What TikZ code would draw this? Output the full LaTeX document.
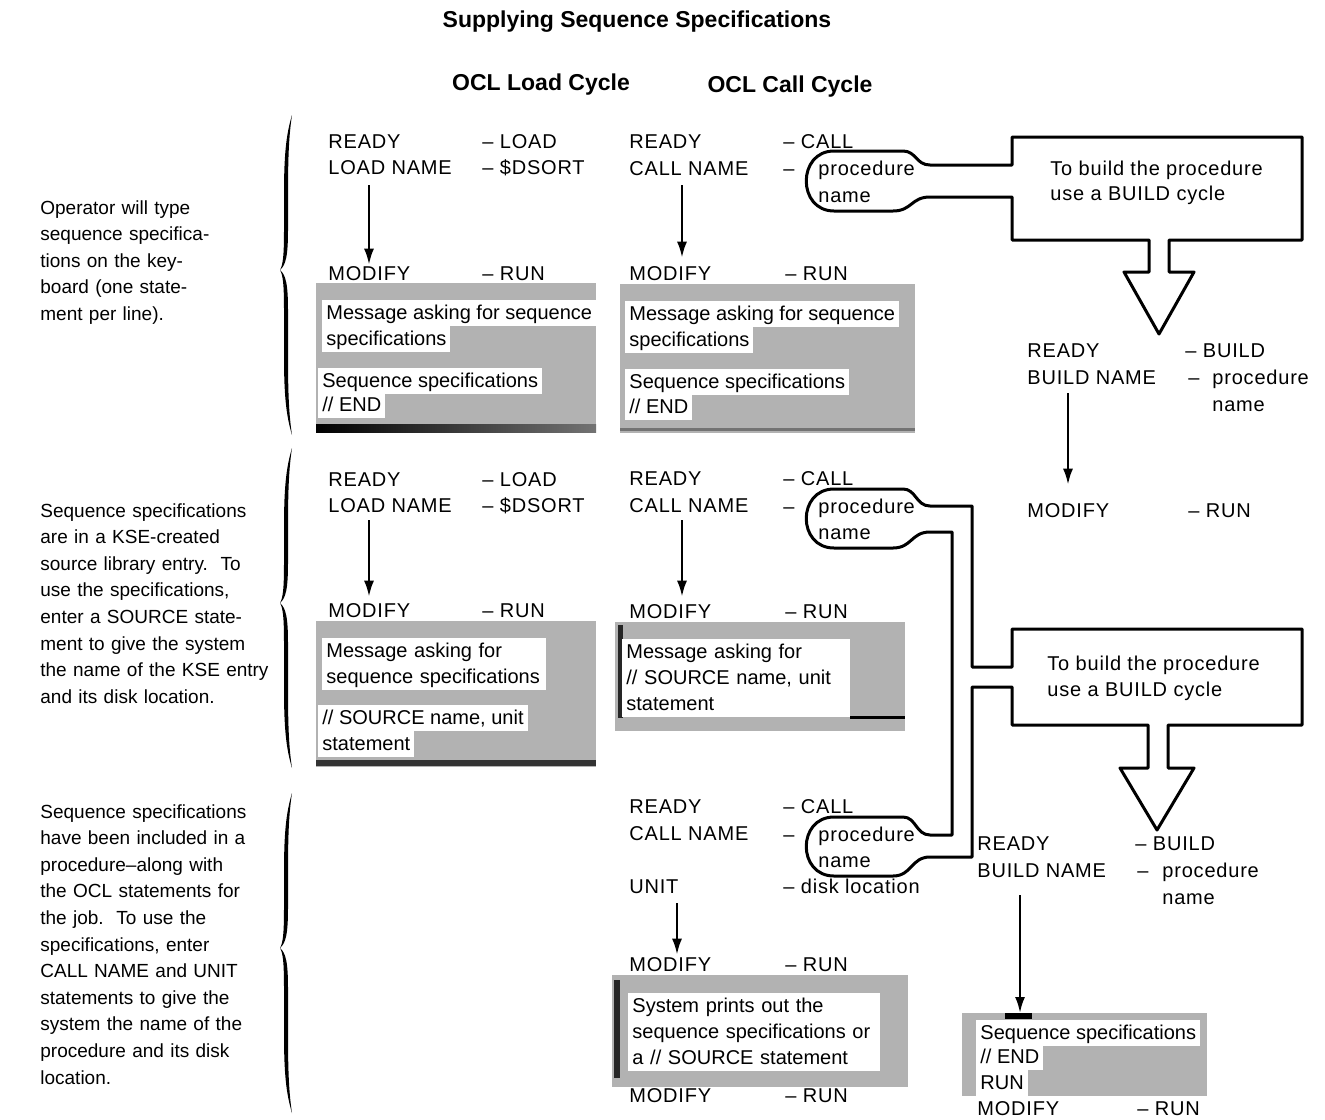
\documentclass[tikz,border=0pt]{standalone}
\usepackage{fontspec}
\setmainfont{Liberation Sans}
\newfontfamily\spaced[Ligatures=TeX, LetterSpace=4]{Liberation Sans}
\usetikzlibrary{arrows.meta}

\tikzset{
  lbl/.style={anchor=west, inner sep=0pt, text height=7.3pt, text depth=0pt,
    font=\spaced\fontsize{10}{13}\selectfont},
  wline/.style={lbl, fill=white, inner xsep=2pt, inner ysep=0pt,
    text height=9.5pt, text depth=3.5pt, font=\fontsize{10}{13}\selectfont},
  wblock/.style={wline, text width=#1, align=left},
  note/.style={anchor=north west, inner sep=0pt, align=left, text width=125pt,
    font=\fontsize{9.5}{13.3}\selectfont},
  head/.style={inner sep=0pt, font=\bfseries\fontsize{11.5}{14}\selectfont},
  gbox/.style={fill=black!30, anchor=north west, inner sep=0pt},
  outline/.style={line width=1.5pt, line join=round},
  arr/.style={line width=1.2pt, -{Latex[length=8pt,width=5pt]}},
}

\begin{document}
\begin{tikzpicture}[x=0.5pt, y=-0.5pt]
  \useasboundingbox (0,0) rectangle (1325,1119);

  % headings
  \node[head] (title) at (637,22) {Supplying Sequence Specifications};
  \node[head] (hload) at (541,85) {OCL Load Cycle};
  \node[head] (hcall) at (790,87) {OCL Call Cycle};

  % braces
  \foreach \t in {115,448,793} {
    \begin{scope}[shift={(0,\t)}]
      \fill (292,0) .. controls (286,20) and (284,40) .. (284,80) -- (284,115)
        .. controls (284,140) and (283,150) .. (280,155)
        .. controls (283,160) and (284,170) .. (284,195) -- (284,240)
        .. controls (284,280) and (286,300) .. (292,320)
        .. controls (289,300) and (288,280) .. (288,240) -- (288,195)
        .. controls (288,170) and (286,160) .. (280,155)
        .. controls (286,150) and (288,140) .. (288,115) -- (288,80)
        .. controls (288,40) and (289,20) .. (292,0) -- cycle;
    \end{scope}
  }

  % left notes
  \node[note] (n1) at (40,200) {Operator will type\\sequence specifica-\\tions on the key-\\board (one state-\\ment per line).};
  \node[note] (n2) at (40,503) {Sequence specifications\\are in a KSE-created\\source library entry.\ \ To\\use the specifications,\\enter a SOURCE state-\\ment to give the system\\the name of the KSE entry\\and its disk location.};
  \node[note] (n3) at (40,804) {Sequence specifications\\have been included in a\\procedure--along with\\the OCL statements for\\the job.\ \ To use the\\specifications, enter\\CALL NAME and UNIT\\statements to give the\\system the name of the\\procedure and its disk\\location.};

  % gray message areas
  \node[gbox, minimum width=140pt, minimum height=75pt] (gr1) at (316,283) {};
  \node[gbox, minimum width=147.5pt, minimum height=74.5pt] (gr2) at (620,284) {};
  \node[gbox, minimum width=140pt, minimum height=73pt] (gr3) at (316,621) {};
  \node[gbox, minimum width=145pt, minimum height=54.5pt] (gr4) at (615,622) {};
  \node[gbox, minimum width=148pt, minimum height=56pt] (gr5) at (612,975) {};
  \node[gbox, minimum width=122.5pt, minimum height=41.5pt] (gr6) at (962,1013) {};
  \shade[left color=black, right color=black!55] (316,424) rectangle (596,432);
  \fill[black!80] (316,760) rectangle (596,766);
  \fill[black!55] (620,428) rectangle (915,431);
  \fill[black!85] (618,625) rectangle (623,718);
  \fill (850,716) rectangle (905,719);
  \fill[black!85] (614,980) rectangle (620,1078);
  \fill (1005,1013) rectangle (1032,1019);

  % section 1, load cycle
  \node[lbl] (rdl1) at (328,141) {READY};
  \node[lbl] (ldn1) at (328,167) {LOAD NAME};
  \node[lbl] (vl1) at (482,141) {-- LOAD};
  \node[lbl] (vn1) at (482,167) {-- \$DSORT};
  \node[lbl] (mdl1) at (328,273) {MODIFY};
  \node[lbl] (rnl1) at (482,273) {-- RUN};
  \node[wline] (m1a) at (322,313) {Message asking for sequence};
  \node[wline] (m1b) at (322,339) {specifications};
  \node[wline] (m1c) at (318,381) {Sequence specifications};
  \node[wline] (m1d) at (318,405) {// END};
  \draw[arr] ([xshift=20.5pt,yshift=-5.3pt]ldn1.south west) -- ([xshift=20.5pt,yshift=0.3pt]mdl1.north west);

  % section 1, call cycle
  \node[lbl] (rdc1) at (629,141) {READY};
  \node[lbl] (cln1) at (629,168) {CALL NAME};
  \node[lbl] (vc1) at (783,141) {-- CALL};
  \node[lbl] (dc1) at (783,168) {--};
  \node[lbl] (pc1) at (818,168) {procedure};
  \node[lbl] (nc1) at (818,195) {name};
  \node[lbl] (mdc1) at (629,273) {MODIFY};
  \node[lbl] (rnc1) at (785,273) {-- RUN};
  \node[wline] (m2a) at (625,314) {Message asking for sequence};
  \node[wline] (m2b) at (625,340) {specifications};
  \node[wline] (m2c) at (625,382) {Sequence specifications};
  \node[wline] (m2d) at (625,407) {// END};
  \draw[arr] ([xshift=26.5pt,yshift=-4.8pt]cln1.south west) -- ([xshift=26.5pt,yshift=3.8pt]mdc1.north west);

  % build box 1 with its pipe
  \draw[outline] (834,151) .. controls (797,151) and (797,211) .. (834,211) -- (893,211)
    .. controls (912,211) and (911,197) .. (930,197) -- (1012,197) -- (1012,240)
    -- (1149,240) -- (1149,272) -- (1124,272) -- (1159,334) -- (1194,272) -- (1169,272)
    -- (1169,240) -- (1302,240) -- (1302,137) -- (1012,137) -- (1012,165) -- (930,165)
    .. controls (916,165) and (916,151) .. (903,151) -- cycle;
  \node[lbl] (tb1) at (1050,168) {To build the procedure};
  \node[lbl] (ub1) at (1050,193) {use a BUILD cycle};

  \node[lbl] (rdb1) at (1027,350) {READY};
  \node[lbl] (bdn1) at (1027,377) {BUILD NAME};
  \node[lbl] (vb1) at (1185,350) {-- BUILD};
  \node[lbl] (db1) at (1188,377) {--};
  \node[lbl] (pb1) at (1212,377) {procedure};
  \node[lbl] (nb1) at (1212,404) {name};
  \node[lbl] (mdb1) at (1027,510) {MODIFY};
  \node[lbl] (rnb1) at (1188,510) {-- RUN};
  \draw[arr] ([xshift=20.5pt,yshift=-4.3pt]bdn1.south west) -- ([xshift=20.5pt,yshift=8.8pt]mdb1.north west);

  % section 2, load cycle
  \node[lbl] (rdl2) at (328,479) {READY};
  \node[lbl] (ldn2) at (328,505) {LOAD NAME};
  \node[lbl] (vl2) at (482,479) {-- LOAD};
  \node[lbl] (vn2) at (482,505) {-- \$DSORT};
  \node[lbl] (mdl2) at (328,610) {MODIFY};
  \node[lbl] (rnl2) at (482,610) {-- RUN};
  \node[wblock=108pt] (m3a) at (322,651) {Message asking for};
  \node[wblock=108pt] (m3b) at (322,677) {sequence specifications};
  \node[wline] (m3c) at (318,718) {// SOURCE name, unit};
  \node[wline] (m3d) at (318,744) {statement};
  \draw[arr] ([xshift=20.5pt,yshift=-3.8pt]ldn2.south west) -- ([xshift=20.5pt,yshift=2.8pt]mdl2.north west);

  % section 2, call cycle
  \node[lbl] (rdc2) at (629,478) {READY};
  \node[lbl] (cln2) at (629,505) {CALL NAME};
  \node[lbl] (vc2) at (783,478) {-- CALL};
  \node[lbl] (dc2) at (783,506) {--};
  \node[lbl] (pc2) at (818,506) {procedure};
  \node[lbl] (nc2) at (818,532) {name};
  \node[lbl] (mdc2) at (629,611) {MODIFY};
  \node[lbl] (rnc2) at (785,611) {-- RUN};
  \node[wblock=110pt] (m4a) at (622,652) {Message asking for};
  \node[wblock=110pt] (m4b) at (622,678) {// SOURCE name, unit};
  \node[wblock=110pt] (m4c) at (622,704) {statement};
  \draw[arr] ([xshift=26.5pt,yshift=-3.8pt]cln2.south west) -- ([xshift=26.5pt,yshift=3.3pt]mdc2.north west);

  % build box 2 with the pipes of sections 2 and 3
  \draw[outline] (834,489) .. controls (797,489) and (797,548) .. (834,548) -- (893,548)
    .. controls (912,548) and (911,532) .. (930,532) -- (952,532) -- (952,835) -- (930,835)
    .. controls (916,835) and (916,817) .. (903,817) -- (834,817)
    .. controls (797,817) and (797,876) .. (834,876) -- (893,876)
    .. controls (912,876) and (911,857) .. (930,857) -- (972,857) -- (972,687)
    -- (1012,687) -- (1012,725) -- (1148,725) -- (1148,768) -- (1120,768) -- (1157,830)
    -- (1194,768) -- (1168,768) -- (1168,725) -- (1302,725) -- (1302,629) -- (1012,629)
    -- (1012,667) -- (972,667) -- (972,506) -- (930,506)
    .. controls (916,506) and (916,489) .. (903,489) -- cycle;
  \node[lbl] (tb2) at (1047,663) {To build the procedure};
  \node[lbl] (ub2) at (1047,689) {use a BUILD cycle};

  % section 3, call cycle
  \node[lbl] (rdc3) at (629,806) {READY};
  \node[lbl] (cln3) at (629,833) {CALL NAME};
  \node[lbl] (unit3) at (629,886) {UNIT};
  \node[lbl] (vc3) at (783,806) {-- CALL};
  \node[lbl] (dc3) at (783,834) {--};
  \node[lbl] (pc3) at (818,834) {procedure};
  \node[lbl] (nc3) at (818,860) {name};
  \node[lbl] (vu3) at (783,886) {-- disk location};
  \node[lbl] (mdc3) at (629,964) {MODIFY};
  \node[lbl] (rnc3) at (785,964) {-- RUN};
  \node[wblock=122pt] (m5a) at (628,1006) {System prints out the};
  \node[wblock=122pt] (m5b) at (628,1032) {sequence specifications or};
  \node[wblock=122pt] (m5c) at (628,1058) {a // SOURCE statement};
  \node[lbl] (mde3) at (629,1095) {MODIFY};
  \node[lbl] (rne3) at (785,1095) {-- RUN};
  \draw[arr] ([xshift=24pt,yshift=-4.8pt]unit3.south west) -- ([xshift=24pt,yshift=0.8pt]mdc3.north west);

  % section 3, build cycle
  \node[lbl] (rdb3) at (977,843) {READY};
  \node[lbl] (bdn3) at (977,870) {BUILD NAME};
  \node[lbl] (vb3) at (1135,843) {-- BUILD};
  \node[lbl] (db3) at (1137,870) {--};
  \node[lbl] (pb3) at (1162,870) {procedure};
  \node[lbl] (nb3) at (1162,897) {name};
  \node[wline] (m6a) at (976,1033) {Sequence specifications};
  \node[wline] (m6b) at (976,1057) {// END};
  \node[wline] (m6c) at (976,1083) {RUN};
  \node[lbl] (mdb3) at (977,1108) {MODIFY};
  \node[lbl] (rnb3) at (1137,1108) {-- RUN};
  \draw[arr] ([xshift=21.5pt,yshift=-8.8pt]bdn3.south west) -- ([xshift=29pt]gr6.north west);
\end{tikzpicture}
\end{document}
